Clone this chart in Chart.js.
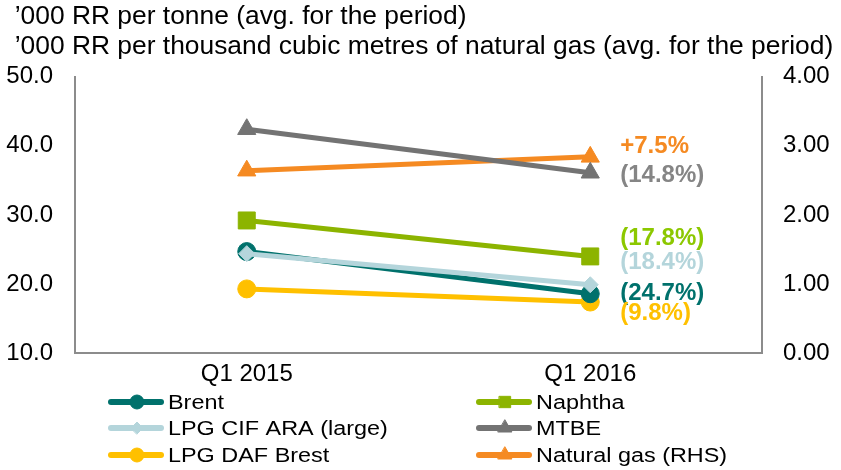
<!DOCTYPE html>
<html>
<head>
<meta charset="utf-8">
<script src="https://cdn.jsdelivr.net/npm/chart.js@4/dist/chart.umd.min.js"></script>
<style>
  html, body { margin: 0; padding: 0; background: #fff; }
  #wrap { width: 841px; height: 470px; }
</style>
</head>
<body>
<div id="wrap"><canvas id="c" width="841" height="470"></canvas></div>
<script>
const categories = ['Q1 2015', 'Q1 2016'];
const titleLines = ['  \u2019000 RR per tonne (avg. for the period)', '  \u2019000 RR per thousand cubic metres of natural gas (avg. for the period)'];
const seriesNames = ['Brent', 'Naphtha', 'LPG CIF ARA (large)', 'MTBE', 'LPG DAF Brest', 'Natural gas (RHS)'];
const brent = [24.7, 18.6];
const naphtha = [29.2, 24.0];
const lpgCif = [24.4, 19.9];
const mtbe = [42.4, 36.1];
const lpgDaf = [19.3, 17.4];
const naturalGas = [2.64, 2.84];
const changeLabels = ['(24.7%)', '(17.8%)', '(18.4%)', '(14.8%)', '(9.8%)', '+7.5%'];
const leftTicks = [10, 20, 30, 40, 50];
const rightTicks = [0, 1, 2, 3, 4];

const FONT = '"Liberation Sans", Arial, Helvetica, sans-serif';
const colors = ['#00716C', '#8CB400', '#B4D5DB', '#737373', '#FFC000', '#F58A22'];
const labelColors = ['#00716C', '#8CC800', '#B4D5DB', '#858585', '#FFC000', '#F58A22'];
const labelOffsets = [0, -18, -22, 3, 11, -10];
const pointStyles = ['circle', 'rect', 'rectRot', 'triangle', 'circle', 'triangle'];
const pointRadii = [9, 12, 8, 10.5, 9, 10.5];
const legendRadii = [7, 8, 6, 8, 7, 8];
const values = [brent, naphtha, lpgCif, mtbe, lpgDaf, naturalGas];
const axes = ['y', 'y', 'y', 'y', 'y', 'y1'];
const orders = [1, 3, 0, 4, 2, 5];

const datasets = seriesNames.map((name, i) => ({
  label: name,
  data: values[i],
  yAxisID: axes[i],
  borderColor: colors[i],
  backgroundColor: colors[i],
  pointBackgroundColor: colors[i],
  pointBorderColor: colors[i],
  pointStyle: pointStyles[i],
  pointRadius: pointRadii[i],
  pointBorderWidth: 1,
  borderWidth: 5,
  tension: 0,
  order: orders[i],
  changeLabel: changeLabels[i],
  labelColor: labelColors[i],
  labelOffset: labelOffsets[i],
  legendRadius: legendRadii[i]
}));

const changeLabelPlugin = {
  id: 'changeLabels',
  afterDatasetsDraw(chart) {
    const ctx = chart.ctx;
    ctx.save();
    ctx.font = 'bold 24px ' + FONT;
    ctx.textBaseline = 'middle';
    ctx.textAlign = 'left';
    chart.data.datasets.forEach((ds, i) => {
      const meta = chart.getDatasetMeta(i);
      const pt = meta.data[meta.data.length - 1];
      ctx.fillStyle = ds.labelColor;
      ctx.fillText(ds.changeLabel, pt.x + 30, pt.y + ds.labelOffset);
    });
    ctx.restore();
  }
};

const legendPlugin = {
  id: 'gridLegend',
  afterDraw(chart) {
    const ctx = chart.ctx;
    const colX = [108, 476];
    const rowY = [402, 428, 455];
    ctx.save();
    chart.data.datasets.forEach((ds, i) => {
      const col = i % 2, row = Math.floor(i / 2);
      const x0 = colX[col], y = rowY[row];
      ctx.strokeStyle = ds.borderColor;
      ctx.lineWidth = 6;
      ctx.lineCap = 'round';
      ctx.beginPath();
      ctx.moveTo(x0 + 3, y);
      ctx.lineTo(x0 + 53, y);
      ctx.stroke();
      ctx.fillStyle = ds.borderColor;
      ctx.lineWidth = 1;
      Chart.helpers.drawPoint(ctx, {
        pointStyle: ds.pointStyle,
        radius: ds.legendRadius,
        borderWidth: 1,
        rotation: 0
      }, x0 + 29, y);
      ctx.fillStyle = '#000';
      ctx.font = '20px ' + FONT;
      ctx.textBaseline = 'middle';
      ctx.textAlign = 'left';
      ctx.save();
      ctx.translate(x0 + 60, y + 1);
      ctx.scale(1.17, 1);
      ctx.fillText(ds.label, 0, 0);
      ctx.restore();
    });
    ctx.restore();
  }
};

new Chart(document.getElementById('c'), {
  type: 'line',
  data: { labels: categories, datasets },
  options: {
    responsive: false,
    animation: false,
    devicePixelRatio: 1,
    layout: { padding: { top: 0, left: 0, right: 0, bottom: 74 } },
    plugins: {
      legend: { display: false },
      tooltip: { enabled: false },
      title: {
        display: true,
        text: titleLines,
        align: 'start',
        color: '#000',
        font: { family: FONT, size: 26.4, weight: 'normal', lineHeight: 1.13 },
        padding: { top: 2, bottom: 15 }
      }
    },
    scales: {
      x: {
        type: 'category',
        offset: true,
        grid: { display: false, drawTicks: false },
        border: { display: true, color: '#8C8C8C', width: 2 },
        ticks: { color: '#000', font: { family: FONT, size: 24 }, padding: 7 }
      },
      y: {
        position: 'left',
        min: leftTicks[0],
        max: leftTicks[leftTicks.length - 1],
        afterBuildTicks(scale) { scale.ticks = leftTicks.map(v => ({ value: v })); },
        afterFit(scale) { scale.width = 75; },
        grid: { display: false, drawTicks: false },
        border: { display: true, color: '#8C8C8C', width: 2 },
        ticks: { color: '#000', font: { family: FONT, size: 24 }, padding: 22, callback: v => Number(v).toFixed(1) }
      },
      y1: {
        position: 'right',
        min: rightTicks[0],
        max: rightTicks[rightTicks.length - 1],
        afterBuildTicks(scale) { scale.ticks = rightTicks.map(v => ({ value: v })); },
        afterFit(scale) { scale.width = 79; },
        grid: { display: false, drawTicks: false },
        border: { display: true, color: '#8C8C8C', width: 2 },
        ticks: { color: '#000', font: { family: FONT, size: 24 }, padding: 21, callback: v => Number(v).toFixed(2) }
      }
    }
  },
  plugins: [changeLabelPlugin, legendPlugin]
});
</script>
</body>
</html>
